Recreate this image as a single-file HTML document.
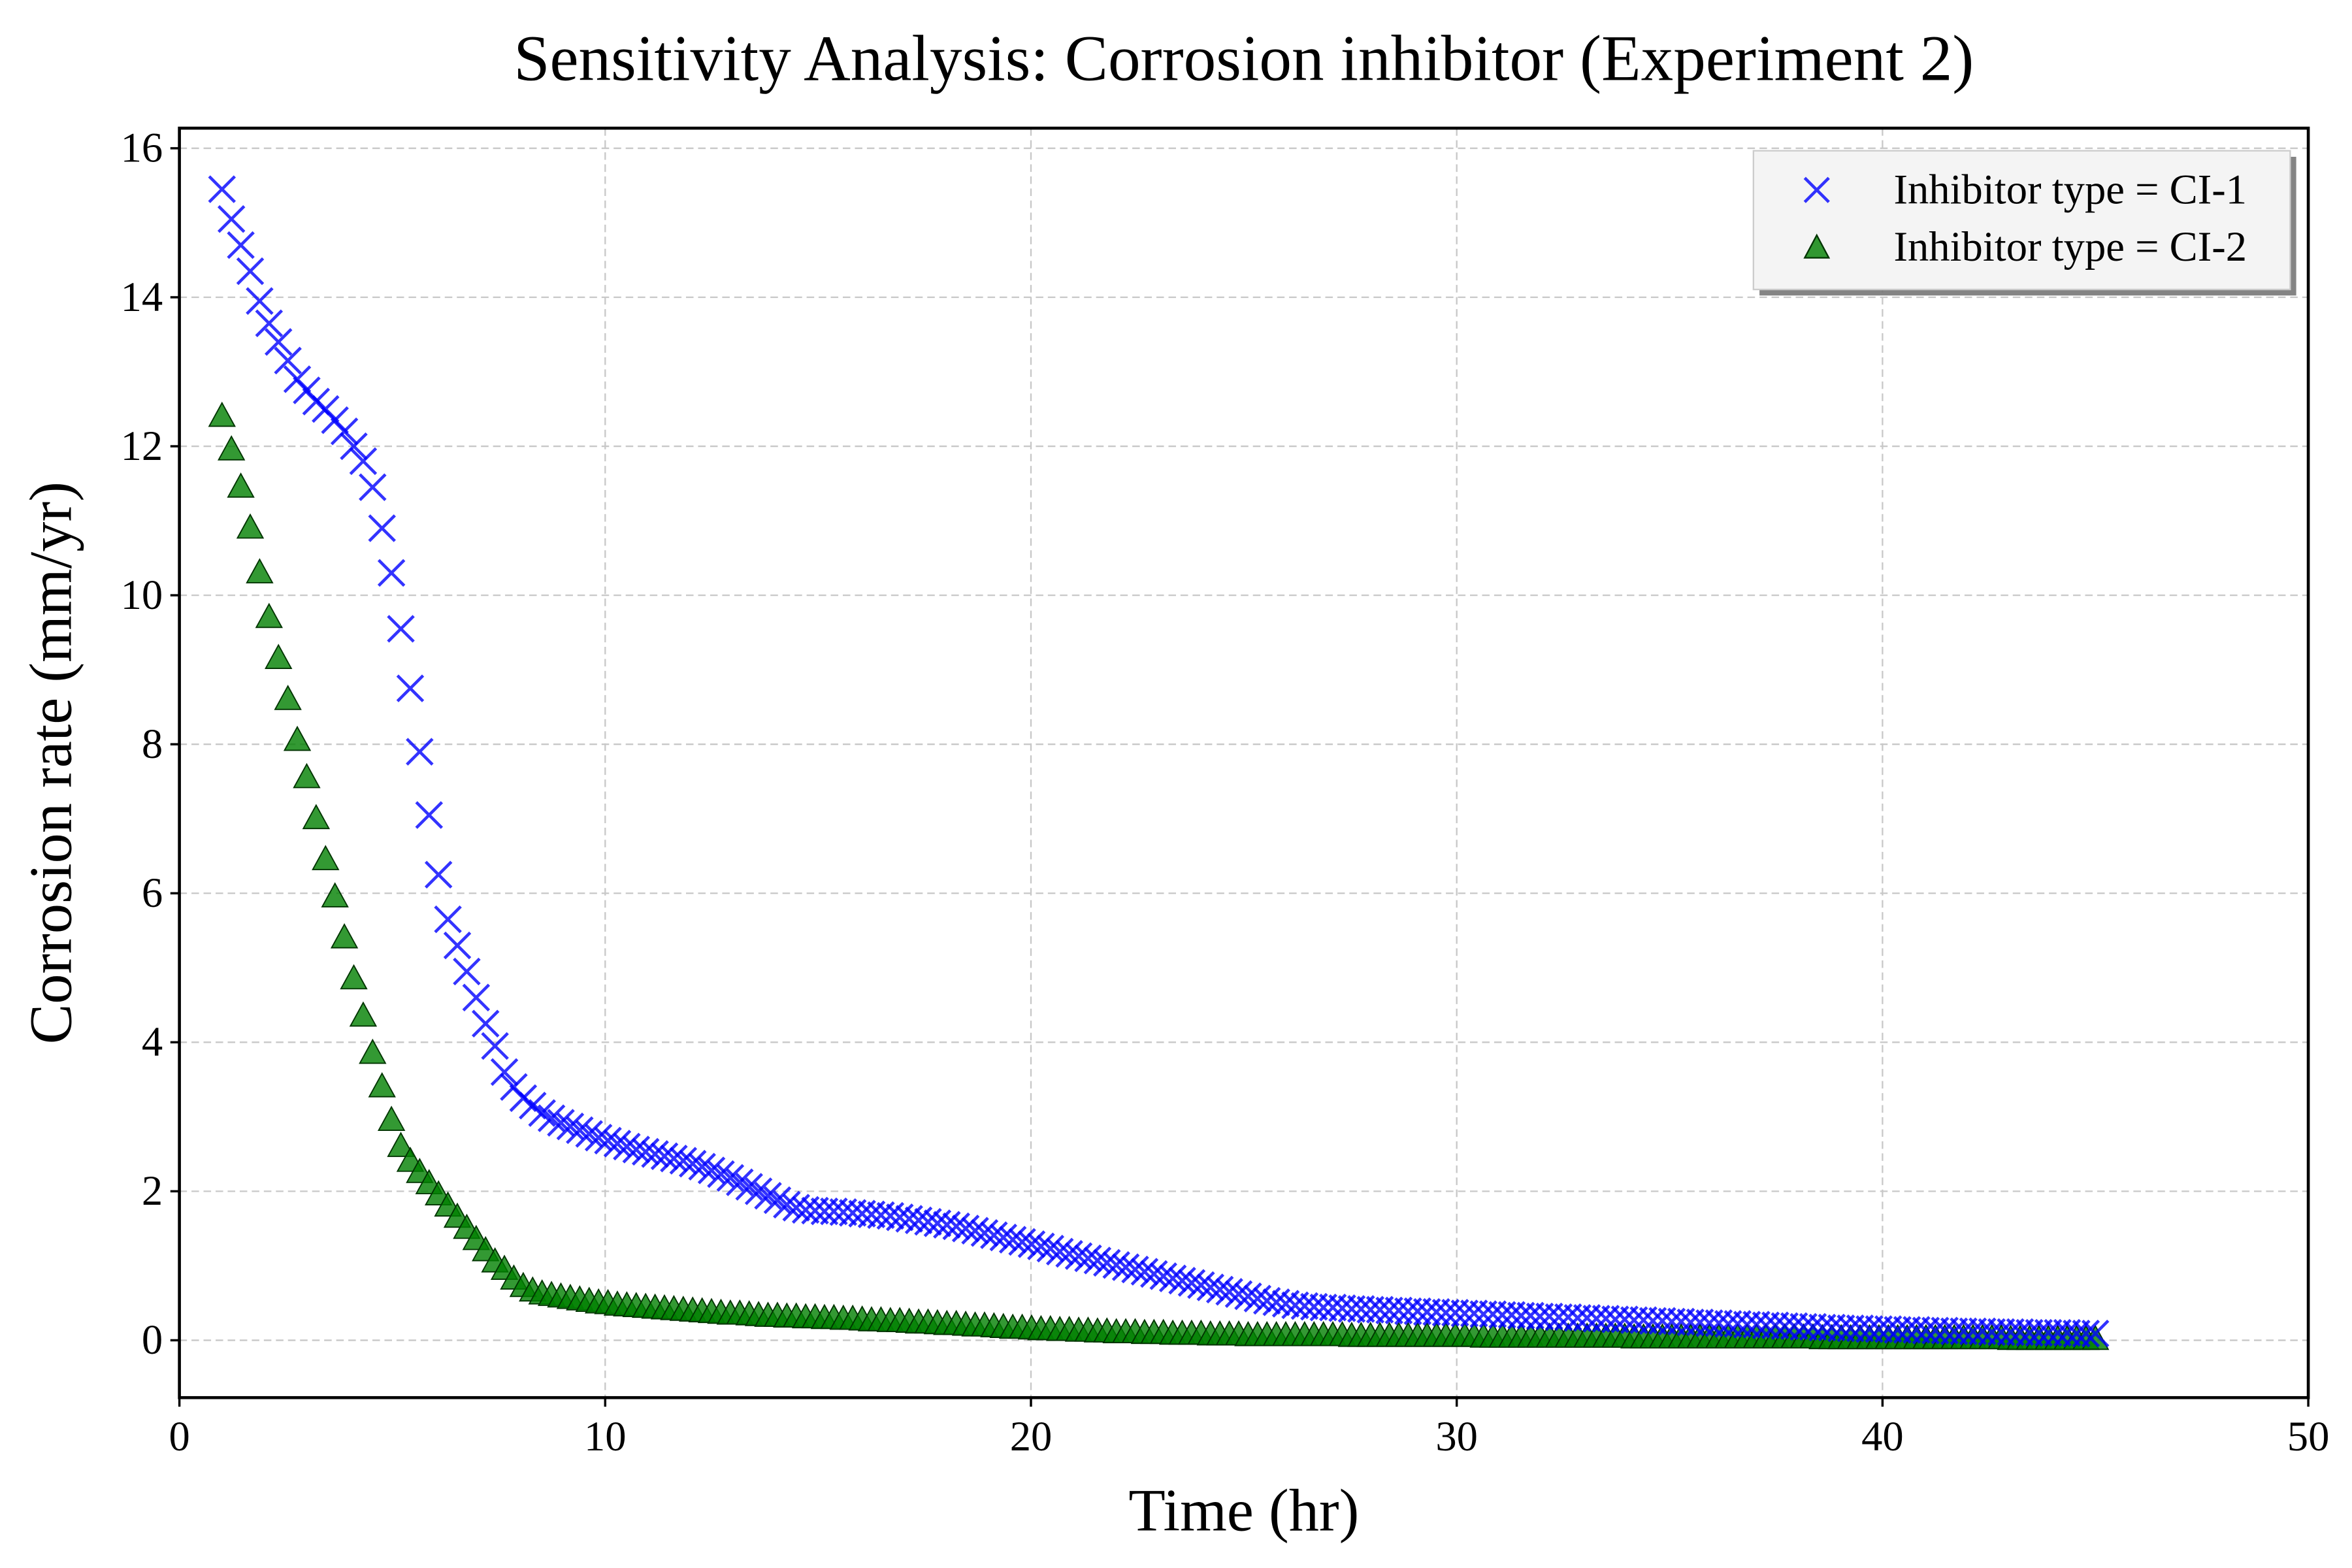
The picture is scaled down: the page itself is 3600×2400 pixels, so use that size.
<!DOCTYPE html>
<html><head><meta charset="utf-8"><style>
html,body{margin:0;padding:0;background:#fff;}
svg{display:block;font-family:"Liberation Serif","DejaVu Serif",serif;}
</style></head><body>
<svg id="chart" width="3600" height="2400" viewBox="0 0 1560 1040" xmlns="http://www.w3.org/2000/svg">
<rect width="1560" height="1040" fill="#fff"/>
<text x="825" y="53" font-size="43" text-anchor="middle">Sensitivity Analysis: Corrosion inhibitor (Experiment 2)</text>
<g id="grid"></g>
<g id="series"></g>
<rect x="119" y="85" width="1412" height="842" fill="none" stroke="#000" stroke-width="2"/>
<g id="axes"></g>
<text x="825" y="1015" font-size="40" text-anchor="middle">Time (hr)</text>
<text transform="translate(47,506) rotate(-90)" font-size="40" text-anchor="middle">Corrosion rate (mm/yr)</text>
<g>
<rect x="1167" y="104" width="356" height="92" fill="#777" opacity="0.9"/>
<rect x="1163" y="100" width="356" height="92" fill="#f4f4f4" stroke="#ccc" stroke-width="1"/>
<g>
<path d="M1197,118 L1213,134 M1213,118 L1197,134" stroke="#0000ff" stroke-opacity="0.8" stroke-width="2"/>
<text x="1256" y="135" font-size="28">Inhibitor type = CI-1</text></g>
<g>
<path d="M1205,156 L1213,171 L1197,171 Z" fill="#008000" fill-opacity="0.8" stroke="#003300" stroke-width="1"/>
<text x="1256" y="173" font-size="28">Inhibitor type = CI-2</text></g>
</g>
</svg>
<script>
const xTicks=[0,10,20,30,40,50];
const yTicks=[0,2,4,6,8,10,12,14,16];
const ci1=[15.45,15.05,14.7,14.35,13.95,13.65,13.4,13.15,12.9,12.75,
12.6,12.5,12.35,12.2,12.0,11.8,11.45,10.9,10.3,9.55,
8.75,7.9,7.05,6.25,5.65,5.3,4.95,4.6,4.25,3.95,
3.6,3.4,3.25,3.15,3.05,2.98,2.92,2.87,2.82,2.77,
2.72,2.68,2.64,2.60,2.56,2.53,2.50,2.47,2.44,2.41,
2.37,2.33,2.28,2.23,2.18,2.12,2.06,2.0,1.94,1.88,
1.82,1.78,1.75,1.74,1.73,1.73,1.72,1.71,1.70,1.69,
1.68,1.67,1.65,1.63,1.61,1.59,1.57,1.55,1.53,1.50,
1.47,1.44,1.41,1.38,1.35,1.32,1.29,1.26,1.23,1.19,
1.16,1.13,1.10,1.07,1.04,1.01,0.98,0.95,0.92,0.89,
0.86,0.83,0.80,0.77,0.74,0.71,0.68,0.65,0.62,0.59,
0.56,0.53,0.51,0.49,0.47,0.46,0.45,0.44,0.44,0.43,
0.42,0.42,0.41,0.41,0.40,0.40,0.39,0.39,0.38,0.38,
0.37,0.37,0.36,0.36,0.35,0.35,0.34,0.34,0.33,0.33,
0.32,0.32,0.31,0.31,0.30,0.30,0.29,0.29,0.28,0.28,
0.27,0.27,0.26,0.26,0.25,0.25,0.24,0.24,0.23,0.23,
0.22,0.22,0.21,0.21,0.20,0.20,0.19,0.19,0.18,0.18,
0.17,0.17,0.16,0.16,0.16,0.15,0.15,0.15,0.14,0.14,
0.14,0.13,0.13,0.13,0.12,0.12,0.12,0.12,0.11,0.11,
0.11,0.11,0.10,0.10,0.10,0.10,0.10,0.09,0.09,0.09];
const ci2=[12.4,11.95,11.45,10.9,10.3,9.7,9.15,8.6,8.05,7.55,
7.0,6.45,5.95,5.4,4.85,4.35,3.85,3.4,2.95,2.6,
2.4,2.25,2.1,1.95,1.8,1.65,1.5,1.35,1.2,1.05,
0.95,0.82,0.72,0.66,0.62,0.60,0.58,0.56,0.54,0.52,
0.50,0.49,0.47,0.46,0.45,0.44,0.43,0.42,0.41,0.40,
0.39,0.38,0.37,0.36,0.35,0.35,0.34,0.33,0.32,0.32,
0.31,0.31,0.30,0.30,0.29,0.29,0.28,0.28,0.27,0.26,
0.26,0.25,0.25,0.24,0.23,0.23,0.22,0.21,0.21,0.20,
0.19,0.19,0.18,0.17,0.16,0.16,0.15,0.14,0.14,0.13,
0.13,0.12,0.12,0.11,0.11,0.10,0.10,0.10,0.09,0.09,
0.09,0.08,0.08,0.08,0.08,0.07,0.07,0.07,0.07,0.06,
0.06,0.06,0.06,0.06,0.06,0.06,0.06,0.06,0.06,0.06,
0.05,0.05,0.05,0.05,0.05,0.05,0.05,0.05,0.05,0.05,
0.05,0.05,0.05,0.05,0.04,0.04,0.04,0.04,0.04,0.04,
0.04,0.04,0.04,0.04,0.04,0.04,0.04,0.04,0.04,0.04,
0.03,0.03,0.03,0.03,0.03,0.03,0.03,0.03,0.03,0.03,
0.03,0.03,0.03,0.03,0.03,0.03,0.03,0.03,0.03,0.03,
0.02,0.02,0.02,0.02,0.02,0.02,0.02,0.02,0.02,0.02,
0.02,0.02,0.02,0.02,0.02,0.02,0.02,0.02,0.02,0.02,
0.01,0.01,0.01,0.01,0.01,0.01,0.01,0.01,0.01,0.01];
const tStart=1, tEnd=45;

const NS="http://www.w3.org/2000/svg";
const X0=119,X1=1531,Y0=927,Y1=85,xmin=0,xmax=50,ymin=-0.77,ymax=16.27;
function sx(v){return X0+(v-xmin)/(xmax-xmin)*(X1-X0);}
function sy(v){return Y0-(v-ymin)/(ymax-ymin)*(Y0-Y1);}
function mk(tag,attrs,parent){const e=document.createElementNS(NS,tag);for(const k in attrs)e.setAttribute(k,attrs[k]);parent.appendChild(e);return e;}
const grid=document.getElementById('grid'),axes=document.getElementById('axes'),series=document.getElementById('series');
xTicks.forEach(t=>{
  const g=mk('line',{x1:sx(t),x2:sx(t),y1:Y1,y2:Y0,stroke:'#c8c8c8','stroke-width':1,'stroke-dasharray':'5,3'},grid);
  
  
  const tk=mk('line',{x1:sx(t),x2:sx(t),y1:Y0,y2:Y0+6,stroke:'#000','stroke-width':1.5},axes);
  
  
  const lb=mk('text',{x:sx(t),y:Y0+35,'font-size':28,'text-anchor':'middle'},axes);
  lb.textContent=t;
  
  
});
yTicks.forEach(t=>{
  const g=mk('line',{x1:X0,x2:X1,y1:sy(t),y2:sy(t),stroke:'#c8c8c8','stroke-width':1,'stroke-dasharray':'5,3'},grid);
  
  
  const tk=mk('line',{x1:X0-6,x2:X0,y1:sy(t),y2:sy(t),stroke:'#000','stroke-width':1.5},axes);
  
  
  const lb=mk('text',{x:X0-11,y:sy(t)+9,'font-size':28,'text-anchor':'end'},axes);
  lb.textContent=t;
  
  
});
const n=ci1.length;
function tAt(i){return tStart+(tEnd-tStart)*i/(n-1);}
const g2=mk('g',{},series);


ci2.forEach((v,i)=>{
  const cx=sx(tAt(i)),cy=sy(v);
  const p=mk('path',{d:`M${cx},${cy-9} L${cx+8.5},${cy+6.5} L${cx-8.5},${cy+6.5} Z`,fill:'#008000','fill-opacity':0.8,stroke:'#003300','stroke-width':0.8},g2);
  
  
});
const g1=mk('g',{},series);


ci1.forEach((v,i)=>{
  const cx=sx(tAt(i)),cy=sy(v),r=8.5;
  const p=mk('path',{d:`M${cx-r},${cy-r} L${cx+r},${cy+r} M${cx+r},${cy-r} L${cx-r},${cy+r}`,stroke:'#0000ff','stroke-opacity':0.8,'stroke-width':2,fill:'none'},g1);
  
  
});
</script>
</body></html>
